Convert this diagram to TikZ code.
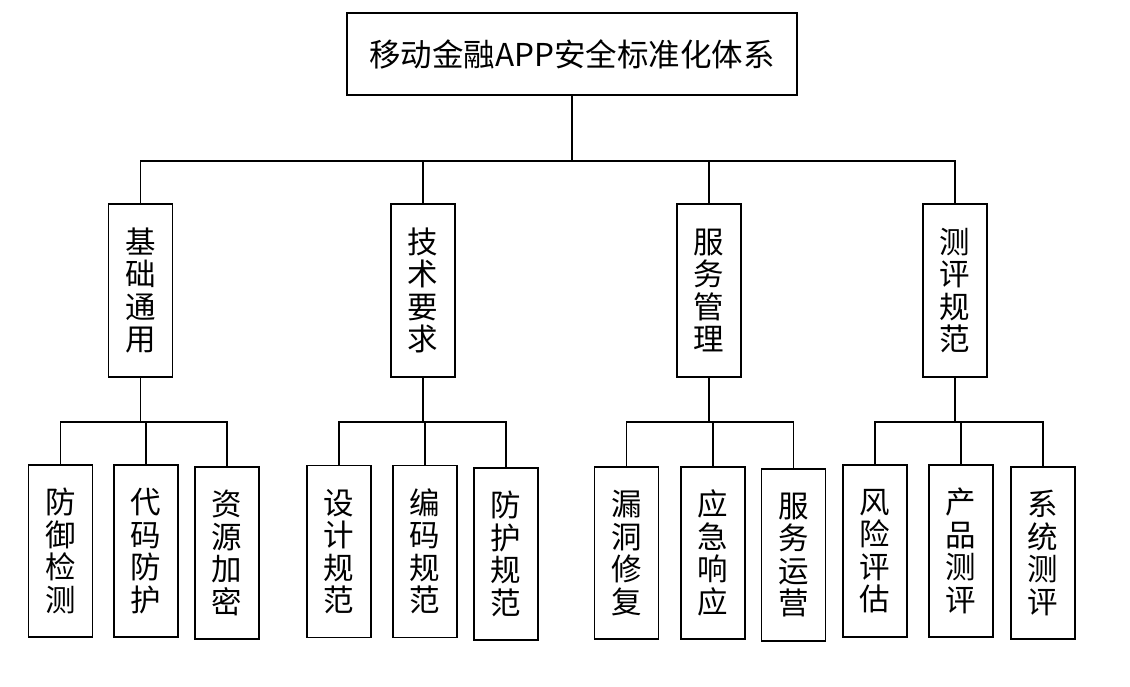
\documentclass[tikz,border=0pt]{standalone}
\usepackage{fontspec}
\setmainfont{Noto Sans CJK SC}

\begin{document}
\begin{tikzpicture}[x=1pt,y=-1pt,
  box/.style={draw=ink, line width=1.8pt, rectangle, inner sep=0pt, align=center,
    font=\fontsize{30.5}{32.5}\selectfont},
  colbox/.style={box, minimum width=64, minimum height=172},
  wire/.style={ink, line width=1.8pt}]
  \definecolor{ink}{RGB}{0,0,0}

  \useasboundingbox (0,0) rectangle (1130,686);
  \coordinate (busA) at (0,161);
  \coordinate (busB) at (0,422);

  \node[box, minimum width=450, minimum height=82, font=\fontsize{31.5}{31.5}\selectfont]
    (root) at (572,54) {移动金融APP安全标准化体系};

  \foreach \name/\cx/\txt in {
    base/140.5/基\\础\\通\\用,
    tech/423/技\\术\\要\\求,
    serv/709/服\\务\\管\\理,
    assess/955/测\\评\\规\\范
  } {
    \node[colbox, minimum height=173] (\name) at (\cx,290.5) {\txt};
  }

  \foreach \name/\cx/\cy/\txt in {
    def/60.5/551/防\\御\\检\\测,
    code/146/551/代\\码\\防\\护,
    enc/227/553/资\\源\\加\\密,
    design/339/551.5/设\\计\\规\\范,
    coding/425/551.5/编\\码\\规\\范,
    protect/506/554/防\\护\\规\\范,
    vuln/626.5/553/漏\\洞\\修\\复,
    resp/713/553/应\\急\\响\\应,
    oper/793.5/555/服\\务\\运\\营,
    risk/875/551/风\\险\\评\\估,
    prod/961/551/产\\品\\测\\评,
    sys/1043/553/系\\统\\测\\评
  } {
    \node[colbox] (\name) at (\cx,\cy) {\txt};
  }

  % top level
  \draw[wire] (root.south) -- (root.south |- busA);
  \draw[wire] (base.north) -- (base.north |- busA) -- (assess.north |- busA) -- (assess.north);
  \draw[wire] (tech.north) -- (tech.north |- busA);
  \draw[wire] (serv.north) -- (serv.north |- busA);

  % second level
  \foreach \p/\a/\b/\c in {base/def/code/enc, tech/design/coding/protect,
                           serv/vuln/resp/oper, assess/risk/prod/sys} {
    \draw[wire] (\p.south) -- (\p.south |- busB);
    \draw[wire] (\a.north) -- (\a.north |- busB) -- (\c.north |- busB) -- (\c.north);
    \draw[wire] (\b.north) -- (\b.north |- busB);
  }
\end{tikzpicture}
\end{document}
